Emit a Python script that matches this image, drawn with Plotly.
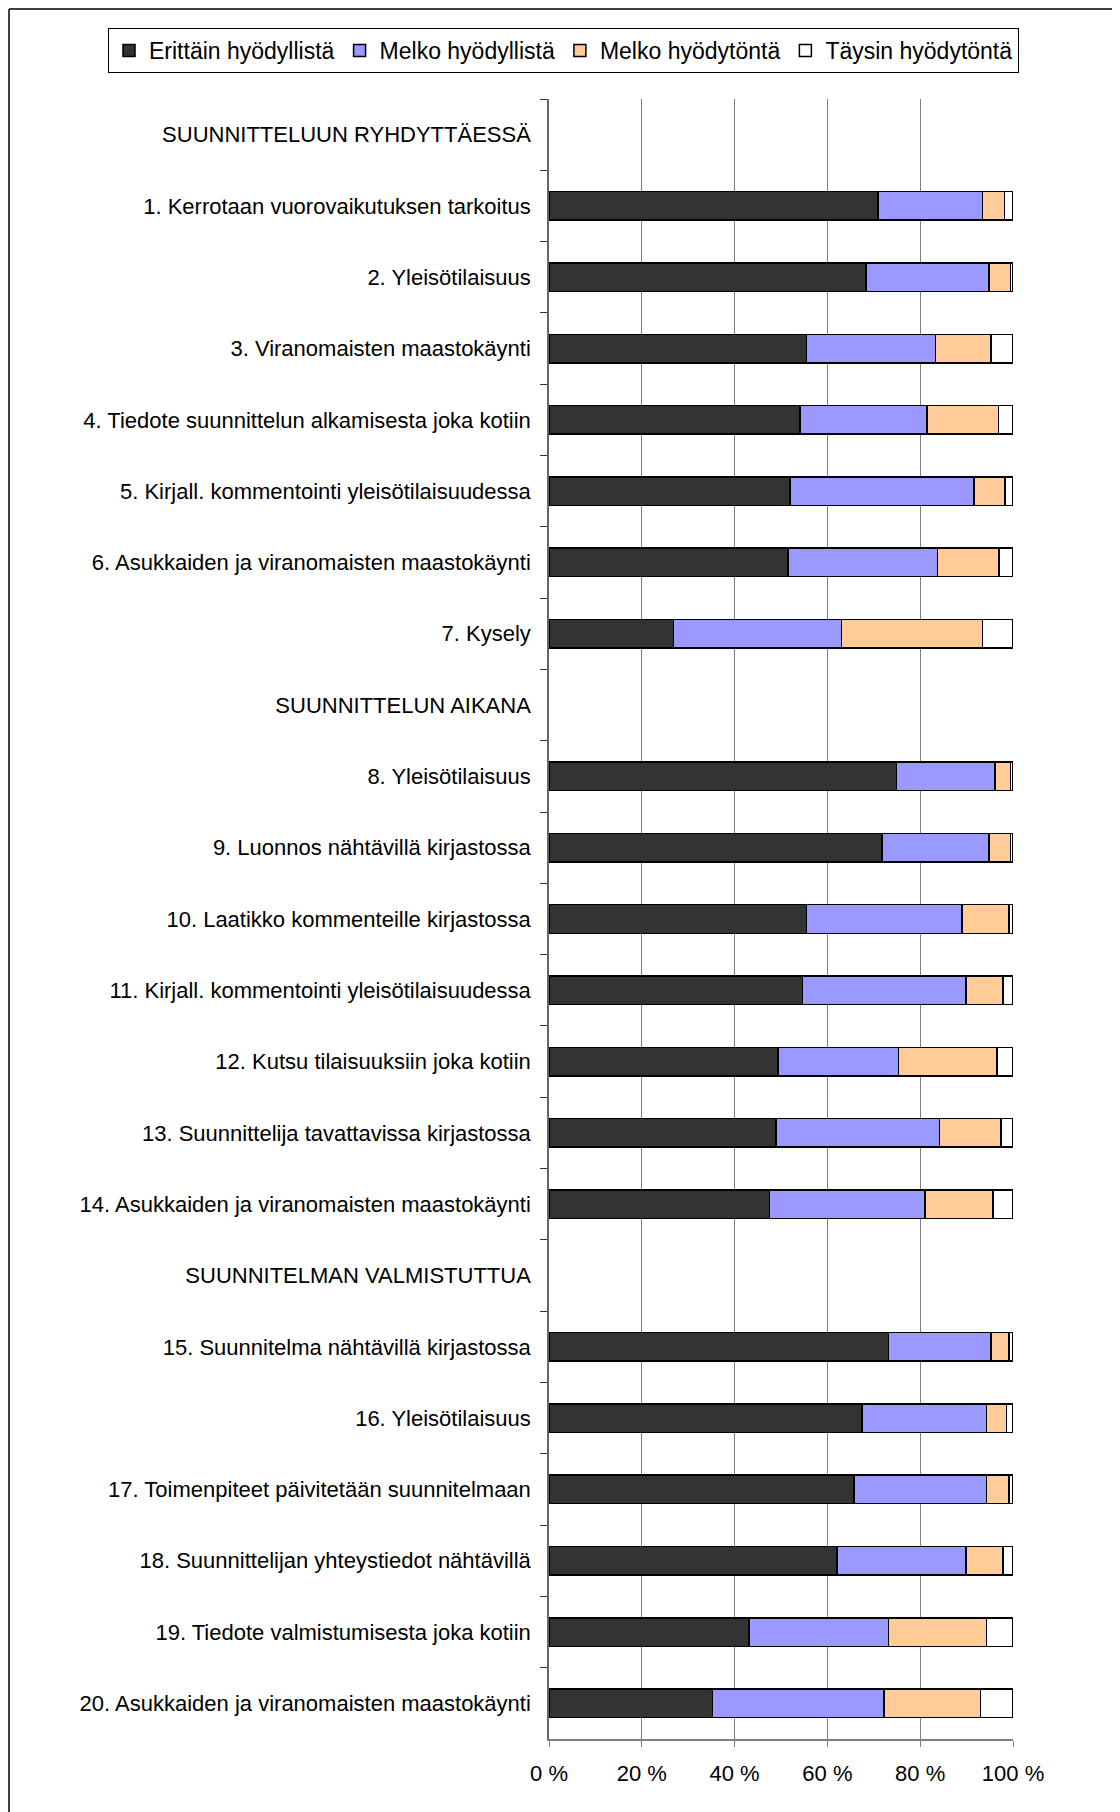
import plotly.graph_objects as go

categories = [
    "SUUNNITTELUUN RYHDYTTÄESSÄ",
    "1. Kerrotaan vuorovaikutuksen tarkoitus",
    "2. Yleisötilaisuus",
    "3. Viranomaisten maastokäynti",
    "4. Tiedote suunnittelun alkamisesta joka kotiin",
    "5. Kirjall. kommentointi yleisötilaisuudessa",
    "6. Asukkaiden ja viranomaisten maastokäynti",
    "7. Kysely",
    "SUUNNITTELUN AIKANA",
    "8. Yleisötilaisuus",
    "9. Luonnos nähtävillä kirjastossa",
    "10. Laatikko kommenteille kirjastossa",
    "11. Kirjall. kommentointi yleisötilaisuudessa",
    "12. Kutsu tilaisuuksiin joka kotiin",
    "13. Suunnittelija tavattavissa kirjastossa",
    "14. Asukkaiden ja viranomaisten maastokäynti",
    "SUUNNITELMAN VALMISTUTTUA",
    "15. Suunnitelma nähtävillä kirjastossa",
    "16. Yleisötilaisuus",
    "17. Toimenpiteet päivitetään suunnitelmaan",
    "18. Suunnittelijan yhteystiedot nähtävillä",
    "19. Tiedote valmistumisesta joka kotiin",
    "20. Asukkaiden ja viranomaisten maastokäynti",
]

series_names = ["Erittäin hyödyllistä", "Melko hyödyllistä", "Melko hyödytöntä", "Täysin hyödytöntä"]

erittain_hyodyllista = [None, 70.9, 68.3, 55.5, 54.1, 51.9, 51.5, 26.8,
                        None, 74.9, 71.8, 55.5, 54.6, 49.3, 48.9, 47.5,
                        None, 73.2, 67.5, 65.7, 62.1, 43.1, 35.2]
melko_hyodyllista = [None, 22.5, 26.5, 27.8, 27.4, 39.7, 32.2, 36.2,
                     None, 21.2, 23.0, 33.5, 35.3, 26.0, 35.3, 33.5,
                     None, 22.1, 26.8, 28.6, 27.8, 30.1, 37.0]
melko_hyodytonta = [None, 4.8, 4.7, 12.0, 15.4, 6.7, 13.3, 30.4,
                    None, 3.4, 4.7, 10.1, 7.9, 21.2, 13.2, 14.7,
                    None, 3.8, 4.3, 4.8, 7.9, 21.1, 20.8]
taysin_hyodytonta = [None, 1.8, 0.5, 4.7, 3.1, 1.7, 3.0, 6.6,
                     None, 0.5, 0.5, 0.9, 2.2, 3.5, 2.6, 4.3,
                     None, 0.9, 1.4, 0.9, 2.2, 5.7, 7.0]

x_tickvals = [0, 20, 40, 60, 80, 100]
x_ticktext = ["0 %", "20 %", "40 %", "60 %", "80 %", "100 %"]

colors = ["#333333", "#9999FF", "#FFCC99", "#FFFFFF"]
series_values = [erittain_hyodyllista, melko_hyodyllista, melko_hyodytonta, taysin_hyodytonta]

FONT = "Liberation Sans, Arial, sans-serif"

fig = go.Figure()
for name, vals, col in zip(series_names, series_values, colors):
    fig.add_trace(go.Bar(
        y=categories, x=vals, name=name, orientation="h",
        marker=dict(color=col, line=dict(color="#000000", width=1.5)),
    ))

W, H = 1120, 1812
L, R, T, B = 541, 1005, 91, 1731
pw, ph = R - L, B - T

fig.update_layout(
    width=W, height=H,
    barmode="stack", bargap=0.6,
    margin=dict(l=L, r=W - R, t=T, b=H - B, autoexpand=False),
    paper_bgcolor="white", plot_bgcolor="white",
    font=dict(family=FONT, size=22, color="#000000"),
    legend=dict(
        orientation="h",
        xref="paper", yref="paper",
        x=(100 - L) / pw, xanchor="left",
        y=(B - 20) / ph, yanchor="top",
        bordercolor="#000000", borderwidth=1,
        bgcolor="white",
        font=dict(family=FONT, size=23, color="#000000"),
        traceorder="normal",
        itemwidth=30,
    ),
    showlegend=True,
)

fig.update_xaxes(
    range=[0, 100], tickvals=x_tickvals, ticktext=x_ticktext,
    showgrid=True, gridcolor="#808080", gridwidth=1,
    showline=True, linecolor="#808080", linewidth=1.5,
    ticks="outside", ticklen=6, tickcolor="#808080",
    ticklabelstandoff=8,
    zeroline=False, fixedrange=True,
)
fig.update_yaxes(
    autorange="reversed", type="category",
    showgrid=False,
    showline=True, linecolor="#666666", linewidth=1.5,
    ticks="outside", ticklen=7, tickcolor="#333333", tickson="boundaries",
    ticklabelstandoff=12,
)

# outer frame (left and top edges visible in the reference)
fig.add_shape(type="line", xref="paper", yref="paper",
              x0=(1 - L) / pw, x1=(1 - L) / pw, y0=(B - 1) / ph, y1=(B - H - 10) / ph,
              line=dict(color="#000000", width=1.5))
fig.add_shape(type="line", xref="paper", yref="paper",
              x0=(1 - L) / pw, x1=(W + 10 - L) / pw, y0=(B - 1) / ph, y1=(B - 1) / ph,
              line=dict(color="#000000", width=1.5))

fig.write_html("out.html")
